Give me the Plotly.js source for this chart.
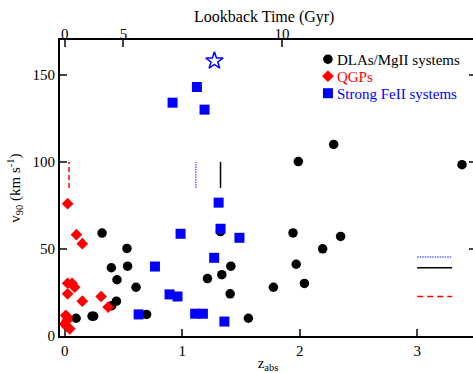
<!DOCTYPE html>
<html>
<head>
<meta charset="utf-8">
<script src="https://cdn.plot.ly/plotly-3.0.1.min.js"></script>
<style>
html,body{margin:0;padding:0;overflow:hidden;background:#fff;}
#chart{width:476px;height:373px;}
svg text{font-family:'Liberation Serif','Times New Roman',serif !important;}
</style>
</head>
<body>
<div id="chart"></div>
<script>
// DLAs / MgII systems
var dlaZ = [0.097, 0.233, 0.246, 0.318, 0.397, 0.40, 0.44, 0.445, 0.53, 0.535, 0.607, 0.697,
            1.215, 1.325, 1.337, 1.408, 1.414, 1.563, 1.776, 1.943, 1.970, 1.988, 2.04, 2.195,
            2.289, 2.348, 3.381];
var dlaV = [10.2, 11.4, 11.4, 59.1, 39.2, 17.4, 20.0, 32.3, 50.3, 40.1, 28.0, 12.4,
            33.0, 60.0, 35.2, 24.2, 40.1, 10.2, 28.0, 59.2, 41.2, 100.2, 30.2, 50.1,
            110.0, 57.2, 98.4];
// QGPs
var qgpZ = [0.025, 0.10, 0.15, 0.025, 0.063, 0.085, 0.025, 0.15, 0.31, 0.37,
            0.009, 0.023, 0.020, 0.0, 0.015, 0.043];
var qgpV = [76.0, 58.2, 53.0, 30.3, 30.3, 28.0, 24.2, 20.0, 22.7, 16.6,
            11.8, 10.8, 8.9, 7.0, 5.6, 4.1];
// Strong FeII systems
var feZ = [0.629, 0.768, 0.892, 0.918, 0.96, 0.986, 1.11, 1.176, 1.125, 1.19,
           1.272, 1.31, 1.326, 1.359, 1.487];
var feV = [12.4, 39.9, 23.9, 134.0, 22.7, 58.7, 12.8, 12.8, 143.0, 130.0,
           44.9, 76.6, 61.6, 8.3, 56.4];
// Highlighted system (open star)
var starZ = [1.274];
var starV = [158.0];
// Vertical marker segments (z value, v from, v to)
var vSegZ = {qgp: 0.037, fe: 1.116, dla: 1.326};
var vSegV = [85.0, 100.0];
// Horizontal marker segments (z from, z to; v level)
var hSegZ = [3.0, 3.297];
var hSegV = {fe: 45.3, dla: 39.2, qgp: 22.7};
// Top axis (lookback time)
var lookbackTickZ = [0.0, 0.5, 1.85];
var lookbackTickText = ['0', '5', '10'];
var zTicks = [0, 1, 2, 3];
var vTicks = [0, 50, 100, 150];

var FONT = 'Liberation Serif';

function seg(x, y, color, dash, width) {
  return {x: x, y: y, type: 'scatter', mode: 'lines', showlegend: false, hoverinfo: 'skip',
          line: {color: color, dash: dash, width: width}};
}

var traces = [
  {x: dlaZ, y: dlaV, type: 'scatter', mode: 'markers', name: 'DLAs/MgII systems',
   marker: {symbol: 'circle', color: '#000', size: 9.5}},
  {x: qgpZ, y: qgpV, type: 'scatter', mode: 'markers', name: 'QGPs',
   marker: {symbol: 'diamond', color: '#ff0000', size: 9}},
  {x: feZ, y: feV, type: 'scatter', mode: 'markers', name: 'Strong FeII systems',
   marker: {symbol: 'square', color: '#0000ff', size: 10}},
  {x: starZ, y: starV, type: 'scatter', mode: 'markers', showlegend: false, xaxis: 'x2',
   marker: {symbol: 'star-open', color: '#0000ff', size: 13, line: {width: 1.5, color: '#0000ff'}}},
  seg([vSegZ.qgp, vSegZ.qgp], vSegV, '#ff0000', '5px,3px', 1.5),
  seg([vSegZ.fe, vSegZ.fe], vSegV, '#6666ff', '1.5px,1px', 1.5),
  seg([vSegZ.dla, vSegZ.dla], vSegV, '#000000', 'solid', 1.5),
  seg(hSegZ, [hSegV.fe, hSegV.fe], '#6666ff', '1.5px,1px', 1.5),
  seg(hSegZ, [hSegV.dla, hSegV.dla], '#000000', 'solid', 1.5),
  seg(hSegZ, [hSegV.qgp, hSegV.qgp], '#ff0000', '6px,4px', 1.5)
];

var layout = {
  width: 476, height: 373,
  margin: {l: 60, r: 0, t: 40, b: 37, autoexpand: false},
  paper_bgcolor: '#fff', plot_bgcolor: '#fff',
  font: {family: FONT, size: 15, color: '#000'},
  showlegend: true,
  legend: {x: 0.596, y: 0.99, xanchor: 'left', yanchor: 'top', bgcolor: 'rgba(0,0,0,0)',
           font: {family: FONT, size: 15, color: '#000'}, itemwidth: 30, tracegroupgap: 0},
  annotations: [{text: 'Lookback Time (Gyr)', xref: 'paper', yref: 'paper', x: 0.49, y: 1.079,
                 xanchor: 'center', yanchor: 'middle', showarrow: false,
                 font: {family: FONT, size: 16, color: '#000'}}],
  xaxis: {range: [-0.04, 3.5], tickvals: zTicks, ticks: 'inside', ticklen: 7, tickwidth: 1.5,
          showgrid: false, zeroline: false, showline: true, linecolor: '#000', linewidth: 2,
          tickfont: {family: FONT, size: 15, color: '#000'},
          title: {text: 'z<sub>abs</sub>', font: {family: FONT, size: 15, color: '#000'}, standoff: 4}},
  xaxis2: {range: [-0.04, 3.5], overlaying: 'x', side: 'top', anchor: 'y',
           tickvals: lookbackTickZ, ticktext: lookbackTickText, ticks: 'inside', ticklen: 7, tickwidth: 1.5,
           ticklabelstandoff: -7,
           showgrid: false, zeroline: false, showline: true, linecolor: '#000', linewidth: 2,
           tickfont: {family: FONT, size: 15, color: '#000'}},
  yaxis: {range: [0, 170], tickvals: vTicks, ticks: 'inside', ticklen: 7, tickwidth: 1.5,
          showgrid: false, zeroline: false, showline: true, mirror: 'ticks', linecolor: '#000', linewidth: 2,
          tickfont: {family: FONT, size: 15, color: '#000'},
          title: {text: 'v<sub>90</sub> (km s<sup>-1</sup>)', font: {family: FONT, size: 15, color: '#000'}, standoff: 8}}
};

Plotly.newPlot('chart', traces, layout, {displayModeBar: false}).then(function () {
  // legend styling: coloured texts, marker close to text, compact rows
  var cols = ['#000000', '#ff0000', '#0000ff'];
  var rowGap = 17;
  var items = document.querySelectorAll('.legend .traces');
  var y0 = null;
  items.forEach(function (g, i) {
    var m = /translate\(\s*([-\d.]+)[ ,]+([-\d.]+)\s*\)/.exec(g.getAttribute('transform') || '');
    if (m) {
      var x = parseFloat(m[1]), y = parseFloat(m[2]);
      if (y0 === null) y0 = y;
      g.setAttribute('transform', 'translate(' + x + ',' + (y0 + i * rowGap) + ')');
    }
    var t = g.querySelector('.legendtext');
    if (t) {
      t.style.fill = cols[i];
      t.setAttribute('x', 29);
      t.querySelectorAll('tspan').forEach(function (s) { if (s.hasAttribute('x')) s.setAttribute('x', 29); });
    }
  });
});
</script>
</body>
</html>
